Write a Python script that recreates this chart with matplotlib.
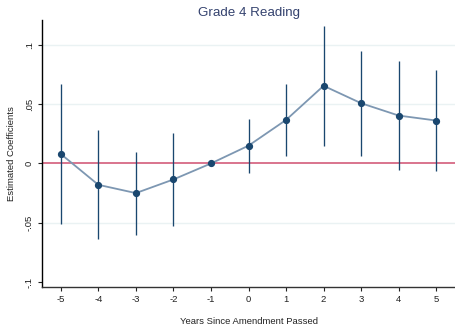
import matplotlib
matplotlib.use("Agg")
import matplotlib.pyplot as plt

plt.rcParams['font.family'] = ['Liberation Sans', 'DejaVu Sans']

years = [-5, -4, -3, -2, -1, 0, 1, 2, 3, 4, 5]
coef = [0.008, -0.018, -0.025, -0.0135, 0.0, 0.015, 0.0367, 0.0655, 0.0508, 0.0404, 0.0362]
ci_hi = [0.0667, 0.0286, 0.0099, 0.026, 0.0, 0.0373, 0.0667, 0.116, 0.0949, 0.0867, 0.0786]
ci_lo = [-0.051, -0.064, -0.060, -0.053, 0.0, -0.0079, 0.0062, 0.015, 0.0065, -0.0059, -0.0062]
ytick_vals = [-0.1, -0.05, 0, 0.05, 0.1]
ytick_labels = ["-.1", "-.05", "0", ".05", ".1"]
xtick_labels = ["-5", "-4", "-3", "-2", "-1", "0", "1", "2", "3", "4", "5"]
grid_vals = [-0.05, 0.05, 0.1]

navy = "#1a476f"
fig = plt.figure(figsize=(4.55, 3.25), dpi=100)
ax = fig.add_axes([42/455, 1-287/325, 1-42/455, (287-20)/325])

for g in grid_vals:
    ax.axhline(g, color="#eaf2f3", lw=1.0, zorder=0)
ax.axhline(0, color="#d9748d", lw=1.4, zorder=1)

ax.vlines([y for y, l, h in zip(years, ci_lo, ci_hi) if h != l],
          [l for l, h in zip(ci_lo, ci_hi) if h != l],
          [h for l, h in zip(ci_lo, ci_hi) if h != l],
          color=navy, lw=0.95, zorder=2)
ax.plot(years, coef, color="#7d97b2", lw=1.3, zorder=3)
ax.plot(years, coef, 'o', color=navy, ms=4.2, zorder=4)

ax.set_xlim(-5.5, 5.5)
ax.set_ylim(-0.1042, 0.121)
ax.set_xticks(years)
ax.set_xticklabels(xtick_labels)
ax.set_yticks(ytick_vals)
ax.set_yticklabels(ytick_labels, rotation=90, va='center')

for s in ['top', 'right']:
    ax.spines[s].set_visible(False)
ax.spines['left'].set_color('black')
ax.spines['left'].set_linewidth(1.0)
ax.spines['bottom'].set_color('#333333')
ax.spines['bottom'].set_linewidth(1.0)
ax.tick_params(axis='both', length=3, width=0.8, labelsize=6.8, pad=3, colors='#222222')

ax.set_xlabel("Years Since Amendment Passed", fontsize=6.8, labelpad=9, color='#222222')
ax.set_ylabel("Estimated Coefficients", fontsize=6.8, labelpad=6, color='#222222')
ax.set_title("Grade 4 Reading", fontsize=9.6, color="#34426e", pad=3)

fig.savefig("out.png", dpi=100)
